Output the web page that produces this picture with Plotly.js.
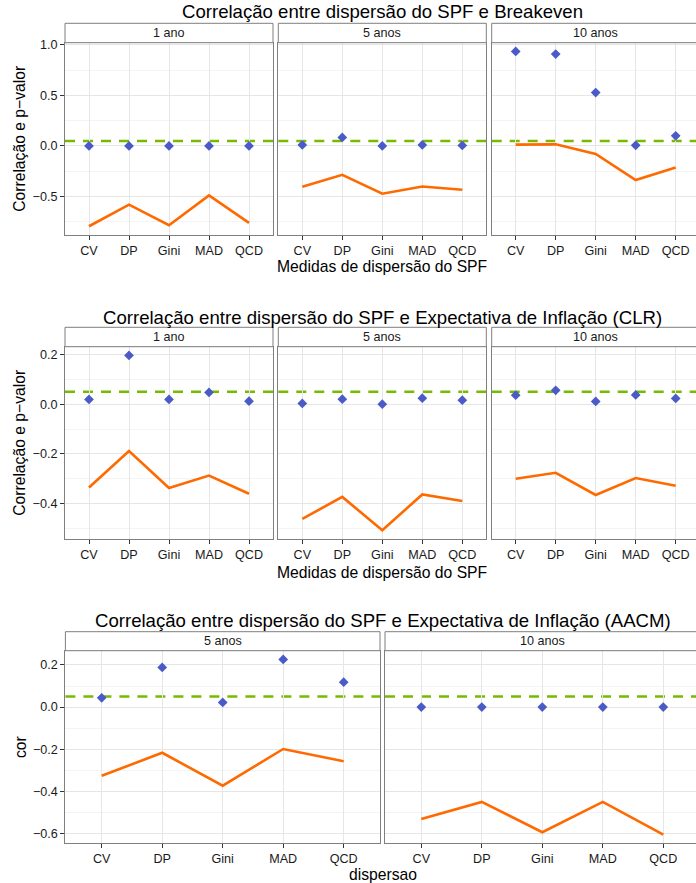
<!DOCTYPE html>
<html>
<head>
<meta charset="utf-8">
<script src="https://cdn.plot.ly/plotly-3.0.1.min.js"></script>
<style>
  html, body { margin: 0; padding: 0; overflow: hidden; background: #ffffff; }
  #chart { width: 704px; height: 883px; }
</style>
</head>
<body>
<div id="chart"></div>
<script>
// Dispersion measures on the x axis of every panel
const categories = ['CV', 'DP', 'Gini', 'MAD', 'QCD'];

// Significance threshold drawn as the dashed line
const pThreshold = 0.05;

// Breakeven: correlation (line) and p-value (diamonds)
const beCor1 = [-0.795, -0.581, -0.785, -0.490, -0.762];
const bePval1 = [0.000, 0.000, 0.000, 0.000, 0.000];
const beCor5 = [-0.404, -0.286, -0.473, -0.401, -0.433];
const bePval5 = [0.010, 0.085, 0.000, 0.010, 0.005];
const beCor10 = [0.013, 0.016, -0.079, -0.338, -0.214];
const bePval10 = [0.936, 0.910, 0.529, 0.007, 0.100];

// Expectativa de Inflação (CLR)
const clrCor1 = [-0.335, -0.188, -0.337, -0.287, -0.360];
const clrPval1 = [0.019, 0.196, 0.019, 0.047, 0.012];
const clrCor5 = [-0.461, -0.373, -0.507, -0.363, -0.389];
const clrPval5 = [0.003, 0.020, 0.000, 0.024, 0.016];
const clrCor10 = [-0.300, -0.276, -0.365, -0.297, -0.328];
const clrPval10 = [0.036, 0.056, 0.011, 0.037, 0.023];

// Expectativa de Inflação (AACM)
const aacmCor5 = [-0.326, -0.217, -0.373, -0.199, -0.257];
const aacmPval5 = [0.044, 0.188, 0.022, 0.226, 0.118];
const aacmCor10 = [-0.531, -0.450, -0.594, -0.450, -0.605];
const aacmPval10 = [0.000, 0.000, 0.000, 0.000, 0.000];

// Facet labels and titles
const rowTitles = [
  'Correlação entre dispersão do SPF e Breakeven',
  'Correlação entre dispersão do SPF e Expectativa de Inflação (CLR)',
  'Correlação entre dispersão do SPF e Expectativa de Inflação (AACM)'
];
const rowFacets = [['1 ano', '5 anos', '10 anos'], ['1 ano', '5 anos', '10 anos'], ['5 anos', '10 anos']];
const rowXTitles = ['Medidas de dispersão do SPF', 'Medidas de dispersão do SPF', 'dispersao'];
const rowYTitles = ['Correlação e p−valor', 'Correlação e p−valor', 'cor'];
const rowCor = [[beCor1, beCor5, beCor10], [clrCor1, clrCor5, clrCor10], [aacmCor5, aacmCor10]];
const rowPval = [[bePval1, bePval5, bePval10], [clrPval1, clrPval5, clrPval10], [aacmPval5, aacmPval10]];

// ---- page geometry (pixels) ----
const W = 704, H = 883;
const rowsGeo = [
  { top: 42.7, bottom: 235, strip: 19.4, titleY: 11.7, xTitleY: 267, dtick: 0.5,
    cols: [[65, 273], [278.3, 486.3], [491.7, 699.7]] },
  { top: 346.7, bottom: 539, strip: 19.4, titleY: 317, xTitleY: 572, dtick: 0.2,
    cols: [[65, 273], [278.3, 486.3], [491.7, 699.7]] },
  { top: 650.7, bottom: 843.3, strip: 19.0, titleY: 620.7, xTitleY: 874, dtick: 0.2,
    cols: [[65.4, 380], [385, 699.6]] }
];
const px = v => v / W;
const py = v => 1 - v / H;

const colors = {
  cor: '#ff6a00',
  pval: '#4a5bc8',
  thr: '#77bb00',
  border: '#7f7f7f',
  grid: '#e6e6e6',
  minor: '#f4f4f4',
  text: '#1a1a1a'
};
const FONT = '"Liberation Sans", Arial, Helvetica, sans-serif';

const layout = {
  width: W, height: H,
  margin: { l: 0, r: 0, t: 0, b: 0, pad: 0 },
  paper_bgcolor: '#ffffff', plot_bgcolor: '#ffffff',
  showlegend: false,
  font: { family: FONT, color: colors.text },
  shapes: [], annotations: []
};
const traces = [];

// ggplot-style range: data extent plus 5% on each side
function expandedRange(arrays) {
  const all = [].concat(...arrays, [pThreshold]);
  const lo = Math.min(...all), hi = Math.max(...all);
  const pad = (hi - lo) * 0.05;
  return [lo - pad, hi + pad];
}

let n = 0;
rowsGeo.forEach((g, r) => {
  const yr = expandedRange(rowCor[r].concat(rowPval[r]));
  g.cols.forEach((c, k) => {
    n += 1;
    const sfx = n === 1 ? '' : String(n);
    const xa = 'x' + sfx, ya = 'y' + sfx;

    layout['xaxis' + sfx] = {
      domain: [px(c[0]), px(c[1])],
      anchor: ya,
      type: 'category',
      categoryorder: 'array', categoryarray: categories,
      range: [-0.6, categories.length - 0.4],
      showgrid: true, gridcolor: colors.grid, gridwidth: 1,
      zeroline: false,
      showline: true, mirror: true, linecolor: colors.border, linewidth: 1,
      ticks: 'outside', ticklen: 4, tickcolor: '#333333', tickwidth: 1,
      tickfont: { size: 12.6, color: colors.text, family: FONT },
      fixedrange: true
    };
    layout['yaxis' + sfx] = {
      domain: [py(g.bottom), py(g.top)],
      anchor: xa,
      range: yr,
      tick0: 0, dtick: g.dtick, tickformat: '.1f',
      showgrid: true, gridcolor: colors.grid, gridwidth: 1,
      minor: { tick0: 0, dtick: g.dtick / 2, showgrid: true, gridcolor: colors.minor, gridwidth: 1, ticks: '' },
      zeroline: false,
      showline: true, mirror: true, linecolor: colors.border, linewidth: 1,
      ticks: k === 0 ? 'outside' : '', ticklen: 4, tickcolor: '#333333', tickwidth: 1,
      showticklabels: k === 0,
      tickfont: { size: 12.6, color: colors.text, family: FONT },
      fixedrange: true
    };

    // dashed significance line across the panel
    layout.shapes.push({
      type: 'line', xref: xa + ' domain', yref: ya,
      x0: 0, x1: 1, y0: pThreshold, y1: pThreshold,
      line: { color: colors.thr, width: 2.5, dash: '10px,8px' },
      layer: 'below'
    });

    // facet strip
    layout.shapes.push({
      type: 'rect', xref: 'paper', yref: 'paper',
      x0: px(c[0]), x1: px(c[1]), y0: py(g.top), y1: py(g.top - g.strip),
      fillcolor: '#ffffff', line: { color: colors.border, width: 1 }
    });
    layout.annotations.push({
      xref: 'paper', yref: 'paper',
      x: px((c[0] + c[1]) / 2), y: py(g.top - g.strip / 2),
      text: rowFacets[r][k], showarrow: false,
      xanchor: 'center', yanchor: 'middle', borderpad: 0,
      font: { size: 12.6, color: colors.text, family: FONT }
    });

    traces.push({
      type: 'scatter', mode: 'lines',
      x: categories, y: rowCor[r][k], xaxis: xa, yaxis: ya,
      line: { color: colors.cor, width: 2.6 },
      hoverinfo: 'skip'
    });
    traces.push({
      type: 'scatter', mode: 'markers',
      x: categories, y: rowPval[r][k], xaxis: xa, yaxis: ya,
      marker: { symbol: 'diamond', size: 7.5, color: colors.pval, line: { width: 0 } },
      hoverinfo: 'skip'
    });
  });

  const left = g.cols[0][0];
  const right = g.cols[g.cols.length - 1][1];
  const midX = (left + right) / 2;

  // row title
  layout.annotations.push({
    xref: 'paper', yref: 'paper', x: px(midX), y: py(g.titleY),
    text: rowTitles[r], showarrow: false, xanchor: 'center', yanchor: 'middle', borderpad: 0,
    font: { size: 18.6, color: '#000000', family: FONT }
  });
  // x axis title
  layout.annotations.push({
    xref: 'paper', yref: 'paper', x: px(midX), y: py(g.xTitleY),
    text: rowXTitles[r], showarrow: false, xanchor: 'center', yanchor: 'middle', borderpad: 0,
    font: { size: 15.7, color: '#000000', family: FONT }
  });
  // y axis title
  layout.annotations.push({
    xref: 'paper', yref: 'paper', x: px(20), y: py((g.top + g.bottom) / 2),
    text: rowYTitles[r], showarrow: false, textangle: -90,
    xanchor: 'center', yanchor: 'middle', borderpad: 0,
    font: { size: 15.7, color: '#000000', family: FONT }
  });
});

Plotly.newPlot('chart', traces, layout, { staticPlot: true, displayModeBar: false });
</script>
</body>
</html>
